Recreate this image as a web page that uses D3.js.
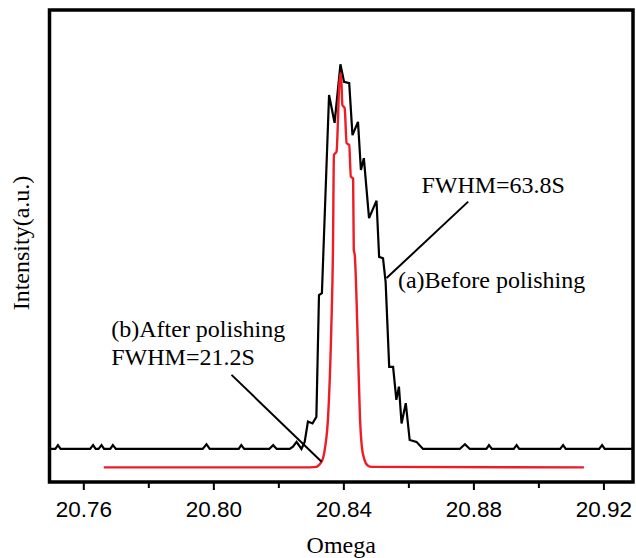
<!DOCTYPE html>
<html>
<head>
<meta charset="utf-8">
<script src="https://cdn.jsdelivr.net/npm/d3@7"></script>
<style>
  body { margin: 0; background: #fff; }
  svg { display: block; }
</style>
</head>
<body>
<div id="chart"></div>
<script>
// (a) before polishing - omega / intensity
var beforeOmega = [20.7495, 20.7514, 20.7522, 20.7530, 20.7621, 20.7630, 20.7638, 20.7647, 20.7656, 20.7664,
  20.7683, 20.7691, 20.7700, 20.7967, 20.7979, 20.7989, 20.8078, 20.8086, 20.8095, 20.8172, 20.8184, 20.8195,
  20.8235, 20.8245, 20.8256, 20.8271, 20.8281, 20.8291, 20.8305, 20.8317, 20.8325, 20.8334, 20.8356, 20.8373,
  20.8391, 20.8402, 20.8418, 20.8428, 20.8445, 20.8454, 20.8463, 20.8479, 20.8502, 20.8510, 20.8522, 20.8530,
  20.8541, 20.8553, 20.8563, 20.8571, 20.8579, 20.8592, 20.8604, 20.8625, 20.8645, 20.8758, 20.8774, 20.8789,
  20.8840, 20.8848, 20.8857, 20.8924, 20.8933, 20.8941, 20.9067, 20.9076, 20.9084, 20.9187, 20.9196, 20.9204, 20.9290];
var beforeIntensity = [70, 70, 78, 70, 70, 78, 70, 70, 78, 70,
  70, 78, 70, 70, 80, 70, 70, 78, 70, 70, 78, 70,
  70, 75, 85, 70, 85, 128, 124, 138, 396, 400, 820, 761,
  885, 848, 845, 735, 763, 661, 686, 559, 596, 477, 474, 424,
  244, 244, 174, 202, 124, 167, 89, 85, 70, 70, 80, 70,
  70, 78, 70, 70, 78, 70, 70, 78, 70, 70, 78, 70, 70];

// (b) after polishing
var afterOmega = [20.7663, 20.8297, 20.8317, 20.8324, 20.8330, 20.8338, 20.8344, 20.8353, 20.8363, 20.8368,
  20.8371, 20.8379, 20.8387, 20.8391, 20.8394, 20.8397, 20.8404, 20.8410, 20.8418, 20.8423, 20.8430, 20.8432,
  20.8435, 20.8445, 20.8451, 20.8457, 20.8463, 20.8469, 20.8475, 20.8487, 20.9140];
var afterIntensity = [31, 31, 32, 35, 40, 52, 74, 138, 329, 492,
  693, 700, 835, 866, 848, 799, 792, 718, 714, 647, 643, 492,
  481, 280, 138, 74, 52, 40, 35, 32, 31];

var majorTicks = [20.76, 20.80, 20.84, 20.88, 20.92];
var minorTicks = [20.78, 20.82, 20.86, 20.90];

var annoText = ["FWHM=63.8S", "(a)Before polishing", "(b)After polishing", "FWHM=21.2S"];
var annoOmega = [20.8640, 20.8568, 20.7686, 20.7686];
var annoIntensity = [612, 410, 308, 248];

// leader lines: [omega1, int1, omega2, int2]
var leaders = [
  [20.8784, 594, 20.8533, 432],
  [20.8056, 227, 20.8333, 43]
];

var width = 636, height = 558;
var mLeft = 49.5, mRight = 633, mTop = 10, mBottom = 482;

var x = d3.scaleLinear().domain([20.7496, 20.9291]).range([mLeft, mRight]);
var y = d3.scaleLinear().domain([0, 1000]).range([mBottom, mTop]);

var svg = d3.select("#chart").append("svg")
  .attr("width", width)
  .attr("height", height);

var line = d3.line()
  .x(function(d) { return x(d[0]); })
  .y(function(d) { return y(d[1]); });

var before = d3.zip(beforeOmega, beforeIntensity);
var after = d3.zip(afterOmega, afterIntensity);

svg.append("path")
  .datum(before)
  .attr("d", line)
  .attr("fill", "none")
  .attr("stroke", "#000")
  .attr("stroke-width", 2.2)
  .attr("stroke-linejoin", "miter");

svg.append("path")
  .datum(after)
  .attr("d", line.curve(d3.curveMonotoneX))
  .attr("fill", "none")
  .attr("stroke", "#ee1c25")
  .attr("stroke-width", 2.4);

// leader lines
svg.selectAll(".leader")
  .data(leaders)
  .enter().append("line")
  .attr("x1", function(d) { return x(d[0]); })
  .attr("y1", function(d) { return y(d[1]); })
  .attr("x2", function(d) { return x(d[2]); })
  .attr("y2", function(d) { return y(d[3]); })
  .attr("stroke", "#000")
  .attr("stroke-width", 2);

// annotation text
svg.selectAll(".anno")
  .data(annoText)
  .enter().append("text")
  .attr("x", function(d, i) { return x(annoOmega[i]); })
  .attr("y", function(d, i) { return y(annoIntensity[i]); })
  .attr("font-family", "Liberation Serif, Times New Roman, serif")
  .attr("font-size", "24px")
  .attr("fill", "#000")
  .text(function(d) { return d; });

// x axis ticks
var xAxis = d3.axisBottom(x)
  .tickValues(majorTicks)
  .tickSize(8)
  .tickFormat(d3.format(".2f"));

var gx = svg.append("g")
  .attr("transform", "translate(0," + mBottom + ")")
  .call(xAxis);
gx.select(".domain").remove();
gx.selectAll(".tick line").attr("stroke", "#000").attr("stroke-width", 2);
gx.selectAll(".tick text")
  .attr("y", 35)
  .attr("dy", 0)
  .attr("fill", "#000")
  .attr("font-family", "Liberation Sans, Arial, sans-serif")
  .attr("font-size", "22.5px");

var gMinor = svg.append("g")
  .attr("transform", "translate(0," + mBottom + ")")
  .call(d3.axisBottom(x).tickValues(minorTicks).tickSize(6).tickFormat(""));
gMinor.select(".domain").remove();
gMinor.selectAll(".tick line").attr("stroke", "#000").attr("stroke-width", 2);

// frame
svg.append("rect")
  .attr("x", mLeft)
  .attr("y", mTop)
  .attr("width", mRight - mLeft)
  .attr("height", mBottom - mTop)
  .attr("fill", "none")
  .attr("stroke", "#000")
  .attr("stroke-width", 3.5);

// axis titles
svg.append("text")
  .attr("transform", "translate(29,243) rotate(-90)")
  .attr("text-anchor", "middle")
  .attr("font-family", "Liberation Serif, Times New Roman, serif")
  .attr("font-size", "24px")
  .attr("fill", "#000")
  .text("Intensity(a.u.)");

svg.append("text")
  .attr("x", (mLeft + mRight) / 2)
  .attr("y", 553)
  .attr("text-anchor", "middle")
  .attr("font-family", "Liberation Serif, Times New Roman, serif")
  .attr("font-size", "24px")
  .attr("fill", "#000")
  .text("Omega");
</script>
</body>
</html>
